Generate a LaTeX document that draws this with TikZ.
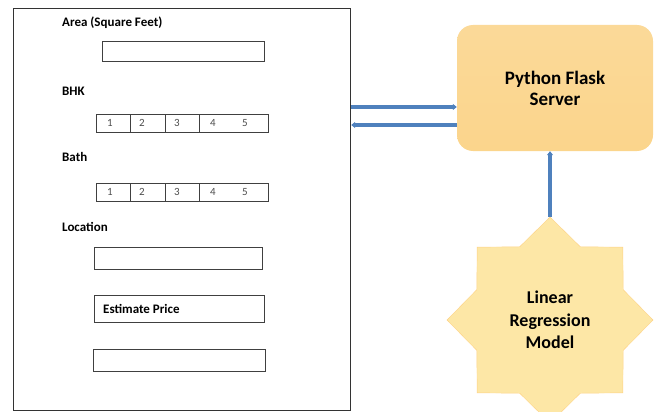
\documentclass[tikz,border=0pt]{standalone}
\usepackage{fontspec}
\setmainfont{Carlito}
\usetikzlibrary{shapes.geometric,arrows.meta}
\definecolor{flowblue}{HTML}{4F81BD}
\definecolor{serverfill}{HTML}{FAD07F}
\definecolor{starfill}{HTML}{FDE7A6}
\tikzset{
  lbl/.style={anchor=west, font=\bfseries\fontsize{13}{15}\selectfont, inner sep=0pt},
  field/.style={draw=black!75, line width=0.9pt, anchor=north west, inner sep=0pt},
  digit/.style={font=\fontsize{11}{13}\selectfont, text=black!70, inner sep=0pt},
  flow/.style={line width=3.5pt, flowblue, -{Triangle[length=4pt,width=6pt]}}
}
\begin{document}
\begin{tikzpicture}[x=1pt,y=-1pt]
            \useasboundingbox (0,0) rectangle (661,412);
            % input form
            \node[draw=black!80, line width=1.2pt, anchor=north west, minimum width=337pt, minimum height=402pt] (form) at (13,8) {};
            \node[lbl] (area) at (62,23) {Area (Square Feet)};
            \node[field, minimum width=162pt, minimum height=20pt] (areabox) at (102,41) {};
            \node[lbl] (bhk) at (62,91) {BHK};
            \node[field, minimum width=172pt, minimum height=18pt] (bhkbox) at (96,114) {};
            \foreach \x in {130,165,199} \draw[black!75, line width=0.9pt] (\x,114) -- (\x,132);
            \foreach \x/\d in {110/1,142/2,177/3,213/4,245/5} \node[digit] (bhk\d) at (\x,123) {\d};
            \node[lbl] (bath) at (62,157) {Bath};
            \node[field, minimum width=172pt, minimum height=18pt] (bathbox) at (96,183) {};
            \foreach \x in {130,165,199} \draw[black!75, line width=0.9pt] (\x,183) -- (\x,201);
            \foreach \x/\d in {110/1,142/2,177/3,213/4,245/5} \node[digit] (bath\d) at (\x,192) {\d};
            \node[lbl] (loc) at (62,227) {Location};
            \node[field, minimum width=168pt, minimum height=22pt] (locbox) at (94,247) {};
            \node[field, minimum width=170pt, minimum height=27pt] (btn) at (94,295) {};
            \node[lbl] (btntext) at (103,309) {Estimate Price};
            \node[field, minimum width=172pt, minimum height=22pt] (pricebox) at (93,349) {};
            % server and model
            \node[rounded corners=16pt, top color=serverfill!80, bottom color=serverfill!100!orange!90, minimum width=196pt, minimum height=126pt, align=center, font=\bfseries\fontsize{19}{21}\selectfont] (server) at (555,88) {Python Flask\\Server};
            \node[star, star points=8, star point ratio=1.3, fill=starfill, draw=starfill!80!orange, minimum size=206pt, inner sep=0pt, align=center, font=\bfseries\fontsize{18}{22.5}\selectfont] (model) at (550,320) {Linear\\Regression\\Model};
            \coordinate (up) at (0,107);
            \coordinate (down) at (0,125);
            \draw[flow] (form.east |- up) -- (server.west |- up);
            \draw[flow] (server.west |- down) -- (form.east |- down);
            \draw[flow] (model.north) -- (model.north |- server.south);
        \end{tikzpicture}
\end{document}
